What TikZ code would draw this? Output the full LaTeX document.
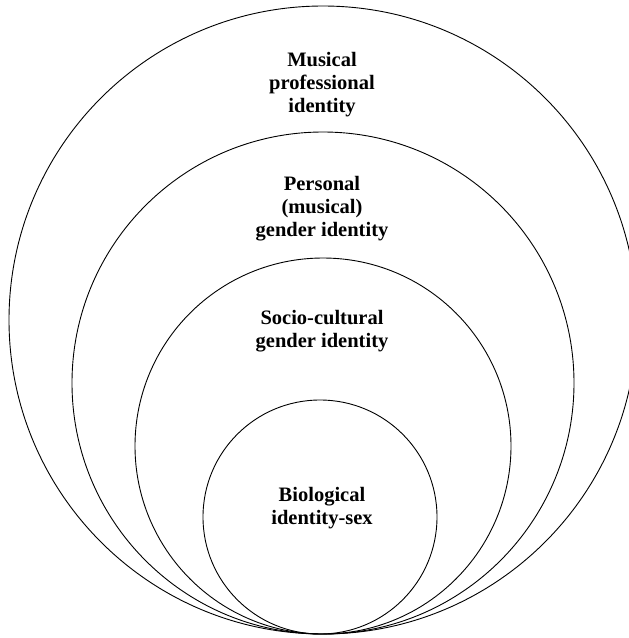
\documentclass[tikz,border=0pt]{standalone}
\usepackage{fontspec}
\setmainfont{Liberation Serif}
\begin{document}
\begin{tikzpicture}[x=1pt,y=-1pt,
  ring/.style={draw=black,line width=0.9pt,circle,inner sep=0pt},
  lbl/.style={font=\bfseries\fontsize{20.5}{23}\selectfont,align=center,inner sep=0pt}]
\useasboundingbox (0,0) rectangle (629,638);
\clip (0,0) rectangle (629,638);
\node[ring,minimum size=628pt] (c1) at (323,320) {};
\node[ring,minimum size=502pt] (c2) at (323,383) {};
\node[ring,minimum size=376pt] (c3) at (323,446) {};
\node[ring,minimum size=234pt] (c4) at (320,517) {};
\node[lbl] (t1) at (322,85) {Musical\\professional\\identity};
\node[lbl] (t2) at (322,209) {Personal\\(musical)\\gender identity};
\node[lbl] (t3) at (322,331) {Socio-cultural\\gender identity};
\node[lbl] (t4) at (322,508) {Biological\\identity-sex};
\end{tikzpicture}
\end{document}
